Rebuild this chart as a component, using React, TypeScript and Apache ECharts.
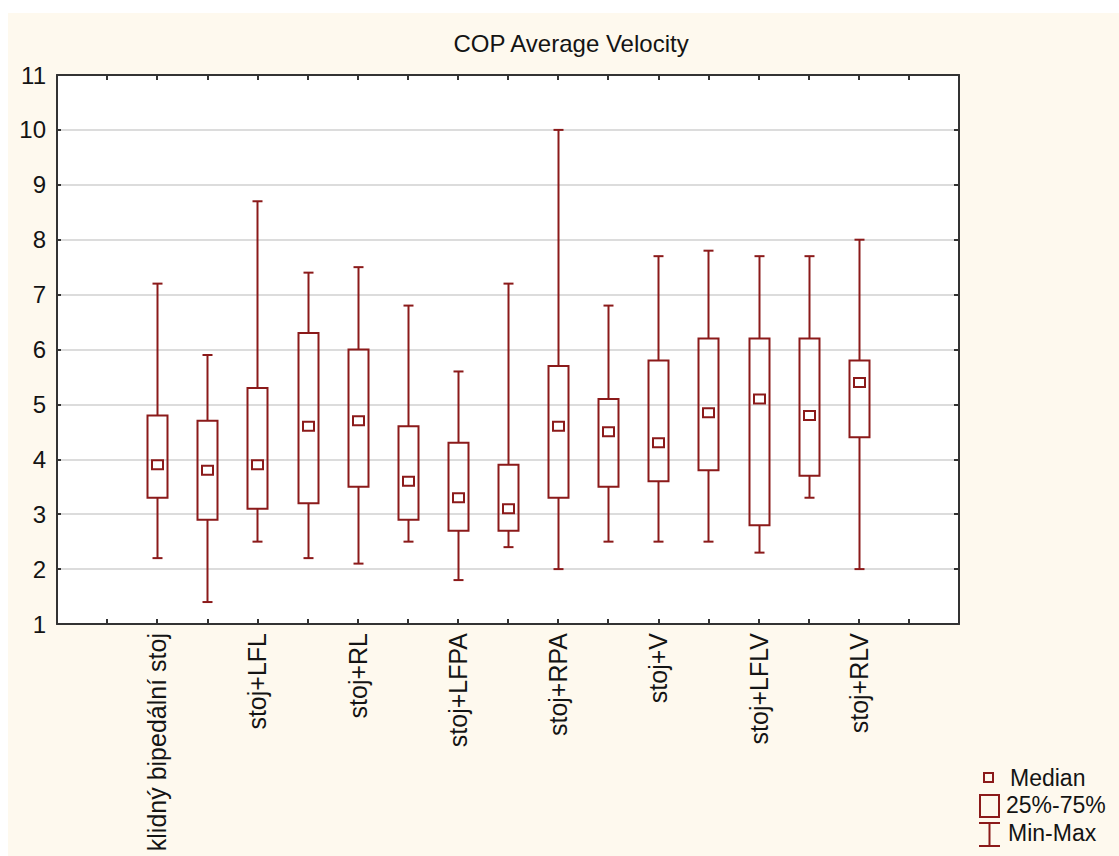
import React, { useEffect, useRef } from "react";
import * as echarts from "echarts";

const titleText = "COP Average Velocity";
const categories = [
  "klidný bipedální stoj", "", "stoj+LFL", "", "stoj+RL", "", "stoj+LFPA", "",
  "stoj+RPA", "", "stoj+V", "", "stoj+LFLV", "", "stoj+RLV",
];
const mins = [2.2, 1.4, 2.5, 2.2, 2.1, 2.5, 1.8, 2.4, 2.0, 2.5, 2.5, 2.5, 2.3, 3.3, 2.0];
const q1s = [3.3, 2.9, 3.1, 3.2, 3.5, 2.9, 2.7, 2.7, 3.3, 3.5, 3.6, 3.8, 2.8, 3.7, 4.4];
const medians = [3.9, 3.8, 3.9, 4.6, 4.7, 3.6, 3.3, 3.1, 4.6, 4.5, 4.3, 4.85, 5.1, 4.8, 5.4];
const q3s = [4.8, 4.7, 5.3, 6.3, 6.0, 4.6, 4.3, 3.9, 5.7, 5.1, 5.8, 6.2, 6.2, 6.2, 5.8];
const maxs = [7.2, 5.9, 8.7, 7.4, 7.5, 6.8, 5.6, 7.2, 10.0, 6.8, 7.7, 7.8, 7.7, 7.7, 8.0];
const yTicks = { min: 1, max: 11, interval: 1 };
const legendLabels = ["Median", "25%-75%", "Min-Max"];

const RED = "#8b1a1a";
const FONT = "'Liberation Sans', Arial, sans-serif";
const TEXT = "#141414";
const AXIS = "#333333";

export default function App() {
  const ref = useRef<HTMLDivElement>(null);
  useEffect(() => {
    if (!ref.current) return;
    const chart = echarts.init(ref.current, null, { renderer: "svg" });
    const offset = 2;
    const xMax = categories.length + 3;
    const rows = categories.map((_, i) => [i + offset, mins[i], q1s[i], medians[i], q3s[i], maxs[i]]);
    const labelAt = (v: number) => {
      const idx = Math.round(v) - offset;
      return idx >= 0 && idx < categories.length ? categories[idx] : "";
    };

    const whiskers = (params: any, api: any) => {
      const x = api.value(0);
      const pMin = api.coord([x, api.value(1)]);
      const pQ1 = api.coord([x, api.value(2)]);
      const pQ3 = api.coord([x, api.value(4)]);
      const pMax = api.coord([x, api.value(5)]);
      const cx = Math.round(pMin[0]) + 0.5;
      const st = { stroke: RED, lineWidth: 2 };
      return {
        type: "group",
        children: [
          { type: "line", shape: { x1: cx, y1: pMin[1], x2: cx, y2: pQ1[1] }, style: st },
          { type: "line", shape: { x1: cx, y1: pQ3[1], x2: cx, y2: pMax[1] }, style: st },
          { type: "line", shape: { x1: cx - 5, y1: pMin[1], x2: cx + 5, y2: pMin[1] }, style: st },
          { type: "line", shape: { x1: cx - 5, y1: pMax[1], x2: cx + 5, y2: pMax[1] }, style: st },
        ],
      };
    };
    const boxes = (params: any, api: any) => {
      const x = api.value(0);
      const pQ1 = api.coord([x, api.value(2)]);
      const pQ3 = api.coord([x, api.value(4)]);
      const cx = Math.round(pQ1[0]) + 0.5;
      return {
        type: "rect",
        shape: { x: cx - 10, y: pQ3[1], width: 20, height: pQ1[1] - pQ3[1] },
        style: { fill: "none", stroke: RED, lineWidth: 2 },
      };
    };
    const meds = (params: any, api: any) => {
      const x = api.value(0);
      const p = api.coord([x, api.value(3)]);
      const cx = Math.round(p[0]) + 0.5;
      return {
        type: "rect",
        shape: { x: cx - 5.5, y: p[1] - 4.5, width: 11, height: 9 },
        style: { fill: "none", stroke: RED, lineWidth: 2 },
      };
    };

    chart.setOption({
      animation: false,
      backgroundColor: "#fef9ee",
      textStyle: { fontFamily: FONT },
      title: {
        text: titleText,
        left: 563,
        top: 18,
        textAlign: "center",
        padding: 0,
        textStyle: { fontFamily: FONT, fontSize: 24, fontWeight: "normal", color: TEXT },
      },
      grid: {
        left: 49, right: 160, top: 62, bottom: 232,
        show: true, backgroundColor: "#ffffff", borderWidth: 0,
      },
      xAxis: [
        {
          type: "value", min: 0, max: xMax, interval: 1, position: "bottom",
          axisLine: { show: true, onZero: false, lineStyle: { color: AXIS, width: 2 } },
          axisTick: { show: true, inside: true, length: 5, lineStyle: { color: AXIS, width: 2 } },
          splitLine: { show: false },
          axisLabel: {
            rotate: 90, margin: 9, fontSize: 25, color: TEXT, fontFamily: FONT,
            formatter: (v: number) => labelAt(v),
          },
        },
        {
          type: "value", min: 0, max: xMax, interval: 1, position: "top",
          axisLine: { show: true, onZero: false, lineStyle: { color: AXIS, width: 2 } },
          axisTick: { show: true, inside: true, length: 5, lineStyle: { color: AXIS, width: 2 } },
          splitLine: { show: false },
          axisLabel: { show: false },
        },
      ],
      yAxis: [
        {
          type: "value", min: yTicks.min, max: yTicks.max, interval: yTicks.interval, position: "left",
          axisLine: { show: true, onZero: false, lineStyle: { color: AXIS, width: 2 } },
          axisTick: { show: true, inside: true, length: 4, lineStyle: { color: AXIS, width: 2 } },
          splitLine: { show: true, lineStyle: { color: "#dcdcdc", width: 2 } },
          axisLabel: { margin: 11, fontSize: 24, color: TEXT, fontFamily: FONT },
        },
        {
          type: "value", min: yTicks.min, max: yTicks.max, interval: yTicks.interval, position: "right",
          axisLine: { show: true, onZero: false, lineStyle: { color: AXIS, width: 2 } },
          axisTick: { show: true, inside: true, length: 5, lineStyle: { color: AXIS, width: 2 } },
          splitLine: { show: false },
          axisLabel: { show: false },
        },
      ],
      series: [
        { name: legendLabels[2], type: "custom", renderItem: whiskers, data: rows, xAxisIndex: 0, yAxisIndex: 0, silent: true },
        { name: legendLabels[1], type: "custom", renderItem: boxes, data: rows, xAxisIndex: 0, yAxisIndex: 0, silent: true },
        { name: legendLabels[0], type: "custom", renderItem: meds, data: rows, xAxisIndex: 0, yAxisIndex: 0, silent: true },
      ],
      graphic: [
        { type: "rect", shape: { x: 976, y: 760, width: 9, height: 9 }, style: { fill: "none", stroke: RED, lineWidth: 2 } },
        { type: "text", x: 1002, y: 765, style: { text: legendLabels[0], fontSize: 23, fontFamily: FONT, fill: TEXT, verticalAlign: "middle" } },
        { type: "rect", shape: { x: 972, y: 782, width: 19, height: 22 }, style: { fill: "none", stroke: RED, lineWidth: 2 } },
        { type: "text", x: 998, y: 792, style: { text: legendLabels[1], fontSize: 23, fontFamily: FONT, fill: TEXT, verticalAlign: "middle" } },
        { type: "line", shape: { x1: 981.5, y1: 810, x2: 981.5, y2: 833 }, style: { stroke: RED, lineWidth: 2 } },
        { type: "line", shape: { x1: 971, y1: 810, x2: 992, y2: 810 }, style: { stroke: RED, lineWidth: 2 } },
        { type: "line", shape: { x1: 971, y1: 833, x2: 992, y2: 833 }, style: { stroke: RED, lineWidth: 2 } },
        { type: "text", x: 1000, y: 820, style: { text: legendLabels[2], fontSize: 23, fontFamily: FONT, fill: TEXT, verticalAlign: "middle" } },
      ],
    });
    return () => chart.dispose();
  }, []);
  return (
    <div
      ref={ref}
      style={{ position: "absolute", left: 8, top: 13, width: 1111, height: 843 }}
    />
  );
}
